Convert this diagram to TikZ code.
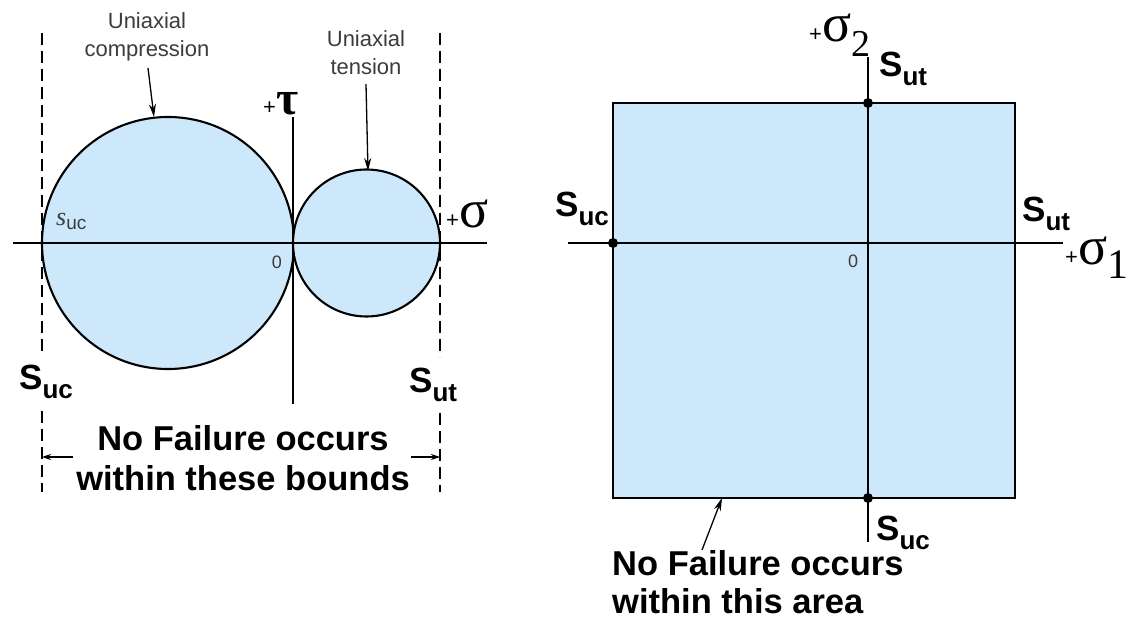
\documentclass[tikz,border=0pt]{standalone}
\usepackage{fontspec}
\setmainfont{Liberation Sans}
\newfontfamily\serifgr{Liberation Serif}
\usetikzlibrary{arrows.meta}
\definecolor{fillblue}{RGB}{205,232,250}
\definecolor{labelgrey}{RGB}{60,60,60}
\newcommand{\Slab}[3]{{\fontsize{#1}{#1}\selectfont\bfseries S}\raisebox{-9pt}{\fontsize{#2}{#2}\selectfont\bfseries #3}}
\tikzset{
  outline/.style={line width=2.1pt, draw=black, fill=fillblue},
  axis/.style={line width=2.1pt},
  dashline/.style={dash pattern=on 12pt off 6pt, line width=1.5pt},
  smalltxt/.style={font=\fontsize{22}{28}\selectfont, align=center, inner sep=0pt, text=labelgrey},
  zerotxt/.style={font=\fontsize{18}{18}\selectfont, inner sep=0pt, text=labelgrey},
  lab/.style={inner sep=0pt, anchor=base west},
  boldtxt/.style={font=\fontsize{34.5}{40}\selectfont\bfseries, inner sep=0pt},
  pointer/.style={-{Stealth[length=13pt,width=7pt]}, line width=1.3pt},
  dimarrow/.style={-{Stealth[length=9pt,width=6pt]}, line width=1.2pt},
  dot/.style={circle, fill=black, inner sep=0pt, minimum size=10pt},
}
\begin{document}
\begin{tikzpicture}[x=1pt,y=-1pt]
\useasboundingbox (0,0) rectangle (1136,620);
% ---------- left diagram ----------
\draw[outline] (168,243) circle (126);
\draw[outline] (366.5,243) circle (73.5);
\coordinate (hl) at (13,243); \coordinate (hr) at (487,243);
\coordinate (tt) at (293,117); \coordinate (tb) at (293,404);
\draw[axis] (hl) -- (hr);
\draw[axis] (tt) -- (tb);
% dashed bounds
\coordinate (d1a) at (42,33); \coordinate (d1b) at (42,352);
\coordinate (d1c) at (42,411); \coordinate (d1d) at (42,492);
\coordinate (d2a) at (440,33); \coordinate (d2b) at (440,357);
\coordinate (d2c) at (440,413); \coordinate (d2d) at (440,492);
\draw[dashline] (d1a) -- (d1b); \draw[dashline] (d1c) -- (d1d);
\draw[dashline] (d2a) -- (d2b); \draw[dashline] (d2c) -- (d2d);
% labels
\node[smalltxt] (comp) at (147,37) {Uniaxial\\compression};
\coordinate (compT) at (154,117);
\draw[pointer] (148,68) -- (compT);
\node[smalltxt] (tens) at (366,53) {Uniaxial\\tension};
\coordinate (tensT) at (368,171);
\draw[pointer] (366,84) -- (tensT);
\node[lab, text=labelgrey] (suc) at (56,226) {{\fontsize{26}{26}\serifgr\itshape s}\raisebox{-4pt}{\fontsize{19}{19}\selectfont uc}};
\node[zerotxt] (zeroL) at (277,262) {0};
\node[lab] (tau) at (263,115) {{\fontsize{22}{22}\selectfont +}{\fontsize{48}{48}\serifgr\bfseries τ}};
\node[lab] (sig) at (446,228) {{\fontsize{22}{22}\selectfont +}{\fontsize{54}{54}\serifgr σ}};
\node[lab] (SucL) at (19,390) {\Slab{35}{26}{uc}};
\node[lab] (SutL) at (409,393) {\Slab{35}{26}{ut}};
\node[boldtxt, anchor=base] (bl1) at (243,450) {No Failure occurs};
\node[boldtxt, anchor=base] (bl2) at (243,490) {within these bounds};
\coordinate (dl) at (42,457); \coordinate (dr) at (440,457);
\draw[dimarrow] (73,457) -- (dl);
\draw[dimarrow] (411,457) -- (dr);
% ---------- right diagram ----------
\draw[outline] (613,103) rectangle (1015,498);
\coordinate (ah1) at (568,243); \coordinate (ah2) at (1063,243);
\coordinate (av1) at (868,57); \coordinate (av2) at (868,542);
\draw[axis] (ah1) -- (ah2);
\draw[axis] (av1) -- (av2);
\node[dot] (p1) at (868,103) {};
\node[dot] (p2) at (613,243) {};
\node[dot] (p3) at (868,498) {};
\node[lab] (s2) at (809,42) {{\fontsize{22}{22}\selectfont +}{\fontsize{54}{54}\serifgr σ}\raisebox{-15pt}{\fontsize{38}{38}\serifgr 2}};
\node[lab] (s1) at (1065,265) {{\fontsize{22}{22}\selectfont +}{\fontsize{54}{54}\serifgr σ}\raisebox{-14pt}{\fontsize{42}{42}\serifgr 1}};
\node[lab] (SutT) at (879,77) {\Slab{35}{26}{ut}};
\node[lab] (SucLR) at (555,217) {\Slab{35}{26}{uc}};
\node[lab] (SutR) at (1022,222) {\Slab{35}{26}{ut}};
\node[lab] (SucB) at (876,540) {\Slab{35}{26}{uc}};
\node[zerotxt] (zeroR) at (853,261) {0};
\node[boldtxt, anchor=base west] (br1) at (612,575) {No Failure occurs};
\node[boldtxt, anchor=base west] (br2) at (612,613) {within this area};
\coordinate (areaT) at (722,498);
\draw[pointer] (702,550) -- (areaT);
\end{tikzpicture}
\end{document}
